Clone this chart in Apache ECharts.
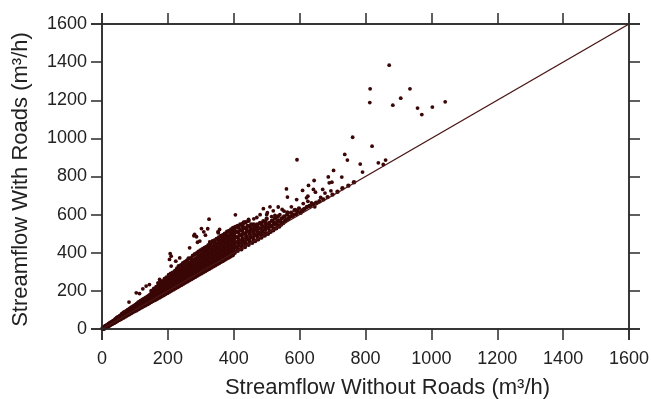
<!DOCTYPE html>
<html>
<head>
<meta charset="utf-8">
<script src="https://cdn.jsdelivr.net/npm/echarts@6/dist/echarts.min.js"></script>
<style>
  html, body { margin: 0; padding: 0; background: #fff; }
  #chart { width: 651px; height: 399px; }
</style>
</head>
<body>
<div id="chart"></div>
<script>
// Axis ticks (m3/h)
const xTicks = [0, 200, 400, 600, 800, 1000, 1200, 1400, 1600];
const yTicks = [0, 200, 400, 600, 800, 1000, 1200, 1400, 1600];

// 1:1 reference line
const oneToOne = [[0, 0], [1600, 1600]];

// Hourly flows, low range (dense wedge near the origin)
const flowsLow = [
  [3,3],[6,7],[8,6],[10,12],[12,11],[14,16],[16,15],[18,21],[20,19],[22,26],[24,23],[25,29],
  [28,27],[29,34],[31,30],[33,38],[35,34],[36,42],[38,37],[40,46],[41,40],[42,50],[45,44],[46,53],
  [47,58],[49,48],[51,57],[52,63],[54,52],[55,61],[56,68],[58,57],[60,66],[61,73],[62,78],[64,62],
  [65,71],[67,80],[68,86],[70,68],[71,77],[72,84],[74,91],[75,73],[77,82],[78,90],[79,98],[81,79],
  [82,88],[84,96],[85,104],[87,85],[88,94],[89,102],[90,111],[92,90],[94,100],[95,109],[96,118],
  [98,96],[99,106],[100,115],[102,124],[103,100],[105,112],[106,121],[107,131],[109,106],[110,118],
  [111,128],[112,138],[114,111],[116,124],[117,134],[118,145],[120,117],[121,129],[122,140],[124,151],
  [125,122],[127,135],[128,146],[129,157],[131,127],[132,140],[134,152],[135,163],[137,133],[138,146],
  [139,158],[141,170],[142,138],[144,151],[145,164],[146,176],[148,144],[149,157],[150,170],[151,183]
];

// Hourly flows, middle range
const flowsMid = [
  [153,149],[154,162],[155,176],[156,190],[158,154],[159,168],[160,182],[161,197],[163,158],[164,173],
  [165,188],[166,203],[168,163],[169,179],[170,195],[171,210],[172,224],[174,168],[175,185],[176,201],
  [177,217],[178,232],[180,174],[181,191],[182,208],[183,224],[184,240],[186,180],[187,197],[188,214],
  [189,231],[190,248],[192,186],[193,203],[194,221],[195,238],[196,255],[198,192],[199,210],[200,228],
  [201,245],[202,262],[204,198],[205,216],[206,234],[207,252],[208,270],[210,204],[211,222],[212,241],
  [213,259],[214,278],[216,210],[217,229],[218,248],[219,267],[220,285],[222,216],[223,235],[224,254],
  [225,274],[226,293],[228,222],[229,241],[230,261],[231,281],[232,300],[234,228],[235,248],[236,268],
  [237,288],[238,308],[240,234],[241,254],[242,275],[243,295],[244,316],[246,240],[247,260],[248,281],
  [249,302],[250,323],[252,246],[253,267],[254,288],[255,309],[256,330],[258,252],[259,273],[260,295],
  [261,316],[262,338],[264,258],[265,280],[266,302],[267,324],[268,346],[270,264],[271,286],[272,308],
  [273,331],[274,353],[276,270],[277,292],[278,315],[279,338],[280,361],[282,276],[283,299],[284,322],
  [285,345],[286,368],[288,282],[289,305],[290,328],[291,352],[292,376],[294,288],[295,311],[296,335],
  [297,359],[298,384],[300,294],[301,318],[302,342],[303,366],[304,391],
  [306,300],[307,325],[308,350],[309,374],[310,398],[312,306],[313,331],[314,356],[315,381],[316,405],
  [318,312],[319,337],[320,362],[321,388],[322,412],[324,318],[325,343],[326,369],[327,394],[328,420],
  [330,324],[331,350],[332,375],[333,401],[334,427],[336,330],[337,356],[338,382],[339,408],[340,434],
  [342,336],[343,362],[344,388],[345,415],[346,440],[348,342],[349,368],[350,395],[351,421],[352,448],
  [354,348],[355,374],[356,401],[357,428],[358,455],[360,354],[361,381],[362,408],[363,435],[364,462],
  [366,360],[367,387],[368,414],[369,441],[370,468],[372,366],[373,393],[374,420],[375,448],[376,475],
  [378,372],[379,400],[380,427],[381,455],[382,482],[384,378],[385,406],[386,434],[387,462],[388,489],
  [390,384],[391,412],[392,440],[393,468],[394,496],[396,390],[397,418],[398,447],[399,475],[400,503]
];

// In-between hours filling the band from 300 to 560
const flowsFill = [
  [305,313],[306,338],[304,361],[305,386],
  [317,322],[318,348],[316,372],[317,396],[318,420],
  [329,334],[330,361],[328,388],[329,412],[330,438],
  [341,346],[342,372],[340,398],[341,425],[342,450],
  [353,358],[354,385],[352,412],[353,440],[354,466],
  [365,370],[366,398],[364,425],[365,452],[366,480],
  [377,382],[378,410],[376,438],[377,466],[378,494],
  [389,394],[390,424],[388,452],[389,480],[390,508],
  [401,408],[402,440],[400,468],[401,495],[402,520],
  [413,420],[414,452],[412,480],[413,508],[414,532],
  [425,432],[426,462],[424,490],[425,516],[426,540],
  [437,444],[438,472],[436,500],[437,528],
  [449,455],[450,484],[448,512],[449,538],
  [461,466],[462,496],[460,522],[461,548],
  [473,478],[474,508],[472,536],
  [485,490],[486,520],[484,548],
  [497,500],[498,532],[496,560],
  [509,512],[510,542],
  [521,526],[522,558],
  [533,540],[534,570],
  [545,556],
  [557,570]
];

// Upper fringe of the dense band
const flowsUpper = [
  [150,200],[158,212],[165,220],[172,236],[178,246],[185,250],[190,262],[196,270],[203,283],[209,290],
  [215,296],[222,305],[228,318],[233,330],[240,335],[246,345],[252,352],[258,358],[263,370],[270,372],
  [276,385],[282,392],[288,398],[293,405],[299,412],[305,418],[311,425],[317,430],[323,440],[330,452],
  [336,460],[342,465],[348,472],[355,480],[361,488],[367,492],[373,500],[380,510],[386,515],[392,522],
  [398,530],[405,535],[412,540],[420,548],[428,552],[436,560],[445,568]
];

// Hourly flows, upper range (thinning band along the 1:1 line)
const flowsHigh = [
  [403,400],[405,428],[407,455],[409,482],[410,510],[412,410],[414,438],[416,466],[418,493],[420,520],
  [423,418],[425,448],[427,475],[429,502],[431,530],[434,430],[436,458],[438,486],[440,514],[442,540],
  [445,442],[447,470],[449,498],[451,525],[453,548],[456,452],[458,480],[460,508],[462,535],[465,462],
  [467,492],[469,520],[471,548],[474,470],[476,498],[478,528],[480,556],[484,480],[486,508],[488,538],
  [490,565],[494,490],[496,520],[498,548],[500,578],[504,500],[506,530],[508,556],[512,510],[514,540],
  [516,568],[520,518],[522,548],[525,580],[529,528],[531,556],[534,590],[538,538],[540,566],[544,548],
  [546,580],[550,556],[553,590],[556,565],[560,575],[562,600],[566,578],[570,588],[574,610],[578,592],
  [582,600],[586,625],[590,602],[594,615],[598,632],[603,610],[608,620],[615,630],[622,640],[630,645],
  [640,655],[650,662],[660,670],[672,680],[685,692],[700,705],[715,720],[730,738],[748,752],[765,770]
];

// Isolated high-flow events
const flowsScattered = [
  [82,141],[104,190],[114,186],[124,211],[134,225],[144,233],[170,242],[180,251],[175,260],[205,365],
  [210,382],[207,395],[224,356],[236,373],[210,330],[266,426],[279,489],[281,496],[287,484],[290,455],
  [297,461],[302,527],[309,510],[314,492],[321,526],[325,576],[327,457],[352,510],[357,522],[353,505],
  [405,599],[461,578],[490,631],[510,641],[502,610],[525,596],[547,627],[553,618],[563,613],[560,735],
  [563,692],[575,641],[584,623],[591,679],[592,888],[609,727],[611,658],[611,627],[621,688],[625,697],
  [625,670],[627,753],[634,648],[636,662],[642,732],[644,779],[646,641],[648,718],[664,690],[670,732],
  [677,713],[687,798],[690,767],[695,725],[698,770],[703,832],[728,797],[737,916],[745,886],[761,1006],
  [784,865],[791,823],[813,1188],[814,1260],[820,959],[839,872],[854,863],[861,886],[872,1384],[883,1174],
  [907,1211],[935,1260],[958,1159],[971,1125],[1003,1164],[1042,1192],
  [430,560],[445,575],[470,585],[480,600],[455,520],[500,600],[520,620],[535,640],[540,600],[515,590]
];

const FONT = 'Liberation Sans, Arial, Helvetica, sans-serif';
const AXIS_COLOR = '#2a2a2a';
const TEXT_COLOR = '#222';
const MARK_COLOR = '#3a0606';
const TICK_LEN = 11;

function makeAxis(position, showLabels, ticks) {
  return {
    type: 'value',
    position: position,
    min: ticks[0],
    max: ticks[ticks.length - 1],
    interval: ticks[1] - ticks[0],
    splitLine: { show: false },
    axisLine: { show: true, onZero: false, lineStyle: { color: AXIS_COLOR, width: 1.5 } },
    axisTick: { show: true, inside: false, length: TICK_LEN, lineStyle: { color: AXIS_COLOR, width: 1.5 } },
    axisLabel: {
      show: showLabels,
      color: TEXT_COLOR,
      fontFamily: FONT,
      fontSize: 18,
      formatter: function (v) { return String(v); }
    }
  };
}

const xBottom = makeAxis('bottom', true, xTicks);
xBottom.axisLabel.margin = 21;
xBottom.name = 'Streamflow Without Roads (m³/h)';
xBottom.nameLocation = 'middle';
xBottom.nameGap = 48;
xBottom.nameTextStyle = { color: TEXT_COLOR, fontFamily: FONT, fontSize: 22, padding: [0, 0, 0, 44] };

const xTop = makeAxis('top', false, xTicks);

const yLeft = makeAxis('left', true, yTicks);
yLeft.axisLabel.margin = 15;
yLeft.name = 'Streamflow With Roads (m³/h)';
yLeft.nameLocation = 'middle';
yLeft.nameGap = 70;
yLeft.nameTextStyle = { color: TEXT_COLOR, fontFamily: FONT, fontSize: 22, padding: [0, 6, 0, 0] };

const yRight = makeAxis('right', false, yTicks);

const chart = echarts.init(document.getElementById('chart'), null, { renderer: 'canvas' });

function scatterSeries(data, size) {
  return {
    type: 'scatter',
    xAxisIndex: 0,
    yAxisIndex: 0,
    data: data,
    symbol: 'circle',
    symbolSize: size,
    itemStyle: { color: MARK_COLOR, opacity: 1 },
    z: 2
  };
}

chart.setOption({
  animation: false,
  backgroundColor: '#fff',
  grid: { left: 102, right: 22, top: 24, bottom: 70, containLabel: false, outerBoundsMode: 'none' },
  xAxis: [xBottom, xTop],
  yAxis: [yLeft, yRight],
  series: [
    scatterSeries(flowsLow.concat(flowsMid), 5.2),
    scatterSeries(flowsFill.concat(flowsUpper, flowsHigh), 4.4),
    scatterSeries(flowsScattered, 3.8),
    {
      type: 'line',
      xAxisIndex: 0,
      yAxisIndex: 0,
      data: oneToOne,
      symbol: 'none',
      lineStyle: { color: '#4a1616', width: 1.4 },
      z: 3
    }
  ]
});

// Frame lines run past each corner by one tick length
const p00 = chart.convertToPixel({ gridIndex: 0 }, [xTicks[0], yTicks[0]]);
const p11 = chart.convertToPixel({ gridIndex: 0 }, [xTicks[xTicks.length - 1], yTicks[yTicks.length - 1]]);
const frameStyle = { stroke: AXIS_COLOR, lineWidth: 1.5 };
chart.setOption({
  graphic: [
    { type: 'line', shape: { x1: p00[0] - TICK_LEN, y1: p00[1], x2: p11[0] + TICK_LEN, y2: p00[1] }, style: frameStyle, z: 10 },
    { type: 'line', shape: { x1: p00[0] - TICK_LEN, y1: p11[1], x2: p11[0] + TICK_LEN, y2: p11[1] }, style: frameStyle, z: 10 },
    { type: 'line', shape: { x1: p00[0], y1: p00[1] + TICK_LEN, x2: p00[0], y2: p11[1] - TICK_LEN }, style: frameStyle, z: 10 },
    { type: 'line', shape: { x1: p11[0], y1: p00[1] + TICK_LEN, x2: p11[0], y2: p11[1] - TICK_LEN }, style: frameStyle, z: 10 }
  ]
});
</script>
</body>
</html>
